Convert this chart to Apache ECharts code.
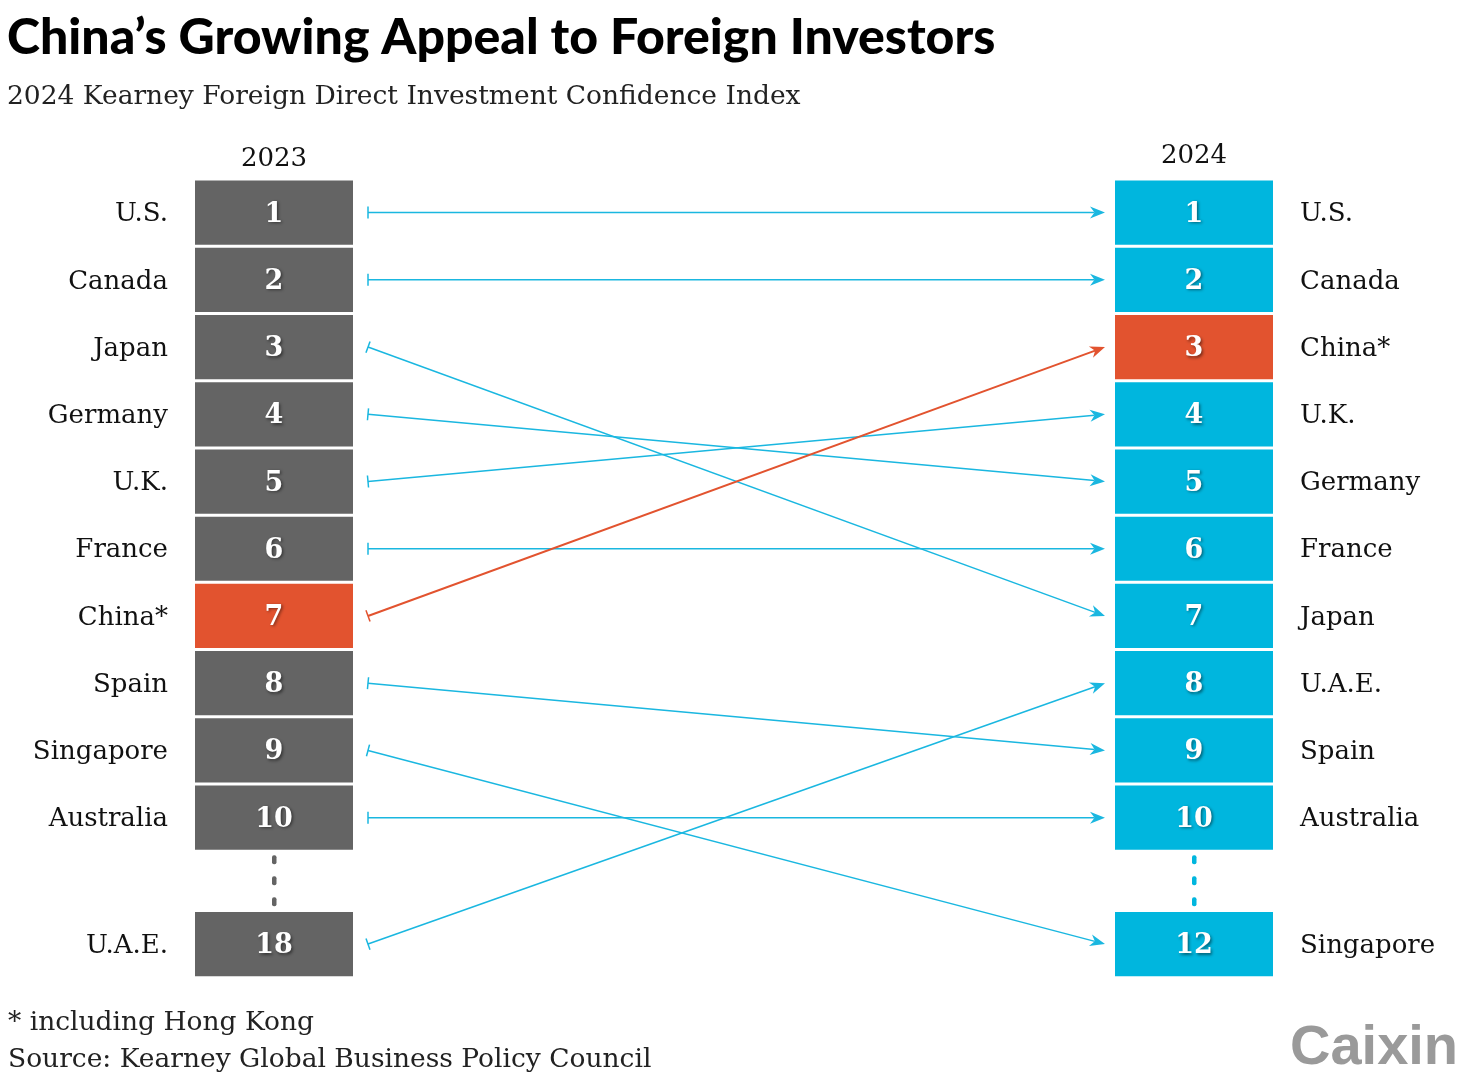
<!DOCTYPE html>
<html>
<head>
<meta charset="utf-8">
<script src="https://cdn.jsdelivr.net/npm/echarts@6/dist/echarts.min.js"></script>
<style>html,body{margin:0;padding:0;background:#fff}#c{width:1469px;height:1091px}</style>
</head>
<body>
<div id="c"></div>
<script>
const years = ['2023', '2024'];
const countries2023 = ['U.S.', 'Canada', 'Japan', 'Germany', 'U.K.', 'France', 'China*', 'Spain', 'Singapore', 'Australia', 'U.A.E.'];
const ranks2023 = [1, 2, 3, 4, 5, 6, 7, 8, 9, 10, 18];
const countries2024 = ['U.S.', 'Canada', 'China*', 'U.K.', 'Germany', 'France', 'Japan', 'U.A.E.', 'Spain', 'Australia', 'Singapore'];
const ranks2024 = [1, 2, 3, 4, 5, 6, 7, 8, 9, 10, 12];
const highlight = 'China*';

const GRAY = '#646464', CYAN = '#00b6de', ORANGE = '#e2532f', LINE_CYAN = '#1ab7e0';
const SERIF = '"DejaVu Serif", "Liberation Serif", serif';
const gapSlot = 11.88;
function slotOf(i) { return i < 10 ? i + 1 : gapSlot; }

const boxData = [];
countries2023.forEach((c, i) => boxData.push([0, slotOf(i), ranks2023[i], c, c === highlight ? 1 : 0]));
countries2024.forEach((c, i) => boxData.push([1, slotOf(i), ranks2024[i], c, c === highlight ? 1 : 0]));

const arrowData = countries2023.map((c, i) => {
  const j = countries2024.indexOf(c);
  return [0, slotOf(i), 1, slotOf(j), c === highlight ? 1 : 0];
});

const chart = echarts.init(document.getElementById('c'));
chart.setOption({
  animation: false,
  grid: { left: 274, right: 275, top: 179, bottom: 112 },
  xAxis: { type: 'value', min: 0, max: 1, show: false },
  yAxis: { type: 'value', min: 0.5, max: 12.4, inverse: true, show: false },
  graphic: [
    { type: 'text', left: 7, top: 13, style: { text: 'China\u2019s Growing Appeal to Foreign Investors', font: '900 50px Lato', fill: '#000' } },
    { type: 'text', left: 7, top: 84, style: { text: '2024 Kearney Foreign Direct Investment Confidence Index', font: '26.5px ' + SERIF, fill: '#222' } },
    { type: 'text', left: 8, top: 1010, style: { text: '* including Hong Kong', font: '26.5px ' + SERIF, fill: '#222' } },
    { type: 'text', left: 8, top: 1047, style: { text: 'Source: Kearney Global Business Policy Council', font: '26.5px ' + SERIF, fill: '#222' } },
    { type: 'text', left: 1290, top: 1021, style: { text: 'Caixin', font: 'bold 56px "Liberation Sans", Arial, sans-serif', fill: '#9a9a9a' } }
  ],
  series: [
    {
      type: 'custom',
      data: years.map((y, k) => [k, 0.5, y]),
      renderItem: (params, api) => {
        const p = api.coord([api.value(0), api.value(1)]);
        const dy = params.dataIndex === 0 ? -20 : -23;
        return { type: 'text', style: { text: years[params.dataIndex], x: p[0], y: p[1] + dy, align: 'center', verticalAlign: 'middle', font: '26px ' + SERIF, fill: '#111' } };
      }
    },
    {
      type: 'custom',
      data: boxData,
      renderItem: (params, api) => {
        const d = boxData[params.dataIndex];
        const col = d[0];
        const p = api.coord([col, d[1]]);
        const h = api.size([0, 1])[1] - 3;
        const w = 158;
        const fill = d[4] ? ORANGE : (col === 0 ? GRAY : CYAN);
        return {
          type: 'group',
          children: [
            { type: 'rect', shape: { x: p[0] - w / 2, y: p[1] - h / 2, width: w, height: h }, style: { fill: fill } },
            { type: 'text', style: { text: String(d[2]), x: p[0], y: p[1] + 2, align: 'center', verticalAlign: 'middle', font: 'bold 27px ' + SERIF, fill: '#fff', textShadowColor: 'rgba(0,0,0,0.45)', textShadowBlur: 3, textShadowOffsetX: 1.5, textShadowOffsetY: 1.5 } },
            { type: 'text', style: { text: d[3], x: col === 0 ? p[0] - 106 : p[0] + 106, y: p[1] + 2, align: col === 0 ? 'right' : 'left', verticalAlign: 'middle', font: '26px ' + SERIF, fill: '#111' } }
          ]
        };
      }
    },
    {
      type: 'custom',
      data: [[0, (10 + gapSlot) / 2], [1, (10 + gapSlot) / 2]],
      renderItem: (params, api) => {
        const p = api.coord([api.value(0), api.value(1)]);
        const color = api.value(0) === 0 ? GRAY : CYAN;
        const children = [-21, 0, 21].map(dy => ({ type: 'rect', shape: { x: p[0] - 2, y: p[1] + dy - 4.5, width: 4.5, height: 9, r: 2 }, style: { fill: color } }));
        return { type: 'group', children };
      }
    },
    {
      type: 'custom',
      data: arrowData,
      z: 5,
      renderItem: (params, api) => {
        const d = arrowData[params.dataIndex];
        const a = api.coord([d[0], d[1]]);
        const b = api.coord([d[2], d[3]]);
        const s = [a[0] + 94, a[1]];
        const e = [b[0] - 89, b[1]];
        const dx = e[0] - s[0], dy = e[1] - s[1];
        const len = Math.sqrt(dx * dx + dy * dy);
        const ux = dx / len, uy = dy / len;
        const nx = -uy, ny = ux;
        const color = d[4] ? ORANGE : LINE_CYAN;
        const L = 15, hw = 6;
        const back = [e[0] - ux * L, e[1] - uy * L];
        const notch = [e[0] - ux * L * 0.7, e[1] - uy * L * 0.7];
        return {
          type: 'group',
          children: [
            { type: 'line', shape: { x1: s[0], y1: s[1], x2: notch[0], y2: notch[1] }, style: { stroke: color, lineWidth: d[4] ? 2 : 1.5 } },
            { type: 'line', shape: { x1: s[0] + nx * 6, y1: s[1] + ny * 6, x2: s[0] - nx * 6, y2: s[1] - ny * 6 }, style: { stroke: color, lineWidth: 1.5 } },
            { type: 'polygon', shape: { points: [e, [back[0] + nx * hw, back[1] + ny * hw], notch, [back[0] - nx * hw, back[1] - ny * hw]] }, style: { fill: color } }
          ]
        };
      }
    }
  ]
});
</script>
</body>
</html>
